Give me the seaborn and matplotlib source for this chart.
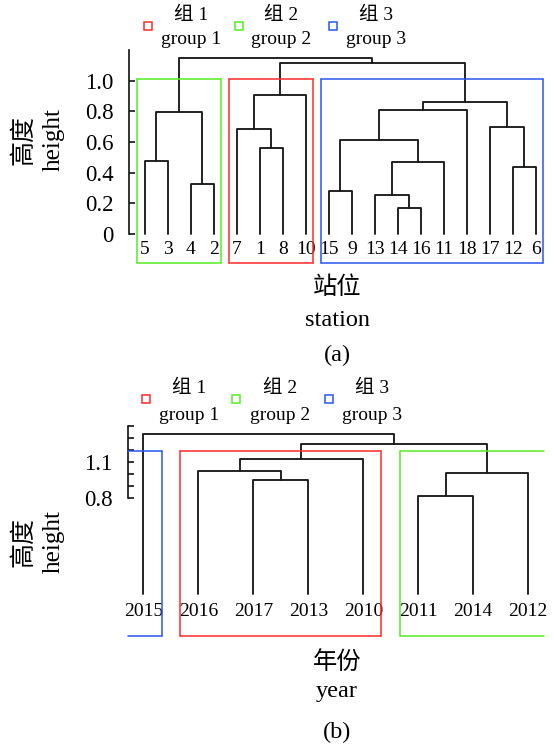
import numpy as np
import pandas as pd
import matplotlib
matplotlib.use("Agg")
import matplotlib.pyplot as plt
import seaborn as sns

# ---------------- data ----------------
# panel (a): stations
station_leaves = ["5", "3", "4", "2", "7", "1", "8", "10", "15", "9",
                  "13", "14", "16", "11", "18", "17", "12", "6"]
station_left = ["5", "4", "c0", "1", "7", "c4", "15", "14", "13", "c8",
                "c6", "c10", "12", "17", "c11", "c5", "c2"]
station_right = ["3", "2", "c1", "8", "c3", "10", "9", "16", "c7", "11",
                 "c9", "18", "6", "c12", "c13", "c14", "c15"]
station_height = [0.478, 0.324, 0.798, 0.563, 0.687, 0.907, 0.280, 0.170, 0.252,
                  0.470, 0.613, 0.807, 0.439, 0.698, 0.859, 1.113, 1.146]
station_groups = [2, 2, 2, 2, 1, 1, 1, 1, 3, 3, 3, 3, 3, 3, 3, 3, 3, 3]
station_yticks = [0, 0.2, 0.4, 0.6, 0.8, 1.0]
station_yticklabels = ["0", "0.2", "0.4", "0.6", "0.8", "1.0"]

# panel (b): years
year_leaves = ["2015", "2016", "2017", "2013", "2010", "2011", "2014", "2012"]
year_left = ["2017", "2016", "c1", "2011", "c3", "c2", "2015"]
year_right = ["2013", "c0", "2010", "2014", "2012", "c4", "c5"]
year_height = [0.953, 1.023, 1.128, 0.819, 1.011, 1.248, 1.333]
year_groups = [3, 1, 1, 1, 1, 2, 2, 2]
year_yticks = [0.8, 0.9, 1.0, 1.1, 1.2, 1.3, 1.4]
year_yticklabels = ["0.8", "", "", "1.1", "", "", ""]

group_zh = ["组 1", "组 2", "组 3"]
group_en = ["group 1", "group 2", "group 3"]
group_colors = ["#ff2a2a", "#55ee22", "#2a55ee"]

# ---------------- style ----------------
sns.set_theme(style="white")
plt.rcParams["font.family"] = ["Liberation Serif", "Noto Sans CJK SC"]
plt.rcParams["axes.unicode_minus"] = False

W, H = 554, 747
fig = plt.figure(figsize=(W / 100, H / 100), dpi=100)
fig.patch.set_facecolor("white")
TXT = "#000000"


def fx(x):
    return x / W


def fy(y):
    return 1 - y / H


def dendro_segments(leaves, left, right, height):
    pos = {lab: float(i) for i, lab in enumerate(leaves)}
    hgt = {lab: 0.0 for lab in leaves}
    rows = []
    for k, (a, b, h) in enumerate(zip(left, right, height)):
        xa, xb = pos[a], pos[b]
        ya, yb = hgt[a], hgt[b]
        for j, (x, y) in enumerate([(xa, ya), (xa, h), (xb, h), (xb, yb)]):
            rows.append({"seg": k, "order": j, "x": x, "y": y})
        pos[f"c{k}"] = (xa + xb) / 2
        hgt[f"c{k}"] = h
    return pd.DataFrame(rows)


def draw_panel(rect, leaves, left, right, height, groups, ybottom, ytop,
               yticks, yticklabels, spine_bounds, label_offset):
    ax = fig.add_axes(rect)
    n = len(leaves)
    xlim = (-0.04 * (n - 1), (n - 1) * 1.04)
    df = dendro_segments(leaves, left, right, height)
    sns.lineplot(data=df, x="x", y="y", units="seg", estimator=None, sort=False,
                 color="#1a1a1a", lw=1.35, ax=ax, legend=False)
    ax.set_xlim(*xlim)
    ax.set_ylim(ybottom, ytop)
    # group boxes (rect.hclust style)
    hs = sorted(height, reverse=True)
    k = len(set(groups))
    box_top = (hs[k - 2] + hs[k - 1]) / 2
    order = []
    for g in groups:
        if g not in order:
            order.append(g)
    for g in order:
        idx = [i for i, gg in enumerate(groups) if gg == g]
        x0, x1 = min(idx) - 0.34, max(idx) + 0.33
        c = group_colors[g - 1]
        cx0, cx1 = max(x0, xlim[0]), min(x1, xlim[1])
        kw = dict(color=c, lw=1.1, clip_on=False, zorder=5)
        ax.plot([cx0, cx1], [box_top, box_top], **kw)
        ax.plot([cx0, cx1], [ybottom, ybottom], **kw)
        if x0 >= xlim[0]:
            ax.plot([x0, x0], [ybottom, box_top], **kw)
        if x1 <= xlim[1]:
            ax.plot([x1, x1], [ybottom, box_top], **kw)
    # leaf labels
    for i, lab in enumerate(leaves):
        ax.annotate(lab, (i, 0), xytext=(0, label_offset), textcoords="offset points",
                    ha="center", va="center", fontsize=14, color=TXT)
    # axes styling
    for s in ["top", "right", "bottom"]:
        ax.spines[s].set_visible(False)
    ax.spines["left"].set_bounds(*spine_bounds)
    ax.spines["left"].set_color("#111111")
    ax.spines["left"].set_linewidth(1.2)
    ax.set_xticks([])
    ax.set_yticks(yticks)
    ax.set_yticklabels(yticklabels)
    ax.tick_params(axis="y", direction="in", length=4.5, width=1.1, pad=11,
                   labelsize=16.5, colors=TXT, left=True)
    ax.set_xlabel("")
    ax.set_ylabel("")
    ax.patch.set_alpha(0)
    return ax


# panel (a)
draw_panel([fx(129.1), fy(263.1), 422.3 / W, 220.7 / H],
           station_leaves, station_left, station_right, station_height,
           station_groups, -0.19, 1.25, station_yticks, station_yticklabels,
           (0, 1.2), -11.5)

# panel (b)
draw_panel([fx(128), fy(636), 415.6 / W, 212.4 / H],
           year_leaves, year_left, year_right, year_height,
           year_groups, -0.35, 1.42, year_yticks, year_yticklabels,
           (0.8, 1.4), -12.7)


def legend(sq_x, zh_x, y_sq, y_zh, y_en):
    for i in range(3):
        fig.lines.append(plt.Line2D([fx(sq_x[i])], [fy(y_sq)], transform=fig.transFigure,
                                    marker="s", markersize=6, mfc="none",
                                    mec=group_colors[i], mew=1.1, ls="none"))
        fig.text(fx(zh_x[i]), fy(y_zh), group_zh[i], ha="center", va="center",
                 fontsize=14, color=TXT)
        fig.text(fx(zh_x[i]), fy(y_en), group_en[i], ha="center", va="center",
                 fontsize=14, color=TXT)


legend([148.3, 239.3, 333.3], [191, 281, 376], 26, 15, 40)
legend([145.5, 236.4, 328.7], [189, 280, 372], 399, 388.5, 415)

# axis titles
for (y_zh, y_en, y_tag, zh, en, tag) in [(288, 320, 355, "站位", "station", "(a)"),
                                         (663, 692, 732, "年份", "year", "(b)")]:
    fig.text(fx(337), fy(y_zh), zh, ha="center", va="center", fontsize=17.5, color=TXT)
    fig.text(fx(337), fy(y_en), en, ha="center", va="center", fontsize=17.5, color=TXT)
    fig.text(fx(337), fy(y_tag), tag, ha="center", va="center", fontsize=17.5, color=TXT)

for yc in [140, 542]:
    fig.text(fx(24), fy(yc), "高度", rotation=90, ha="center", va="center",
             fontsize=18, color=TXT)
    fig.text(fx(54), fy(yc), "height", rotation=90, ha="center", va="center",
             fontsize=18, color=TXT)

fig.savefig("out.png", dpi=100, facecolor="white")
